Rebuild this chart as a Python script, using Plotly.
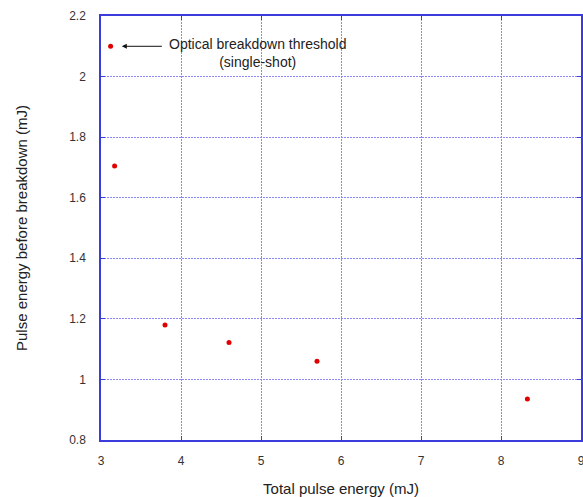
import plotly.graph_objects as go

total_energy = [3.12, 3.17, 3.80, 4.60, 5.70, 8.33]
energy_before = [2.10, 1.705, 1.18, 1.122, 1.06, 0.935]
x_ticks = [3, 4, 5, 6, 7, 8, 9]
y_ticks = [0.8, 1.0, 1.2, 1.4, 1.6, 1.8, 2.0, 2.2]
y_tick_labels = ["0.8", "1", "1.2", "1.4", "1.6", "1.8", "2", "2.2"]

fig = go.Figure()
fig.add_trace(go.Scatter(
    x=total_energy, y=energy_before, mode="markers",
    marker=dict(color="#e00000", size=5),
    showlegend=False, cliponaxis=False,
))

axis_color = "#3c3cdc"
grid_color = "#8a8af2"
tick_font = dict(family="Liberation Sans, Arial, sans-serif", size=12, color="#333333")
title_font = dict(family="Liberation Sans, Arial, sans-serif", size=15, color="#222222")

fig.update_xaxes(
    range=[3, 9], tickvals=x_ticks, ticktext=[str(v) for v in x_ticks],
    showline=True, linecolor=axis_color, linewidth=1.5, mirror="ticks",
    ticks="inside", ticklen=4, tickcolor=axis_color,
    showgrid=True, gridcolor=grid_color, griddash="2px,1px", gridwidth=1,
    zeroline=False, automargin=False, ticklabelstandoff=9,
    ticklabeloverflow="allow",
    title=dict(text="Total pulse energy (mJ)", standoff=22, font=title_font),
    tickfont=tick_font,
)
fig.update_yaxes(
    range=[0.8, 2.2], tickvals=y_ticks, ticktext=y_tick_labels,
    showline=True, linecolor=axis_color, linewidth=1.5, mirror="ticks",
    ticks="inside", ticklen=4, tickcolor=axis_color,
    showgrid=True, gridcolor=grid_color, griddash="2px,1px", gridwidth=1,
    zeroline=False, automargin=False, ticklabelstandoff=11,
    ticklabeloverflow="allow",
    title=dict(text="Pulse energy before breakdown (mJ)", standoff=38, font=title_font),
    tickfont=tick_font,
)

fig.add_annotation(
    x=3.26, y=2.1, ax=3.78, ay=2.1, xref="x", yref="y", axref="x", ayref="y",
    text="", showarrow=True, arrowhead=2, arrowsize=1, arrowwidth=1,
    arrowcolor="#111111",
)
fig.add_annotation(
    x=3.83, y=2.1, xref="x", yref="y", xanchor="left", yanchor="middle",
    text="Optical breakdown threshold<br>(single-shot)", showarrow=False,
    align="center", font=dict(family="Liberation Sans, Arial, sans-serif", size=14, color="#222222"),
    yshift=-7,
)

fig.update_layout(
    width=583, height=497,
    margin=dict(l=101, r=2, t=16, b=57),
    plot_bgcolor="white", paper_bgcolor="white",
    font=tick_font,
)

fig.write_html("out.html")
